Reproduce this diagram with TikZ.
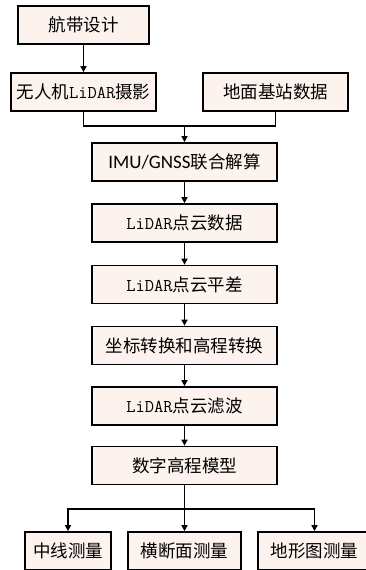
\documentclass[tikz,border=0pt]{standalone}
\usepackage{fontspec}
\setmainfont{Noto Sans CJK SC}
\newfontfamily\cjk{Noto Sans CJK SC}
\newfontfamily\calf{Carlito}
\usetikzlibrary{arrows.meta}
\definecolor{boxfill}{HTML}{FCF3EE}
\newcommand{\LD}{{\ttfamily\fontsize{18}{20}\selectfont LiDAR}}
\tikzset{
  stepbox/.style={draw=black, line width=1.7pt, fill=boxfill, minimum height=38pt, inner sep=0pt,
    font=\cjk\fontsize{17.5}{20}\selectfont},
  conn/.style={line width=1.7pt},
  arr/.style={line width=1.7pt, -{Triangle[length=6pt,width=6pt]}}
}
\begin{document}
\begin{tikzpicture}[x=1pt,y=-1pt]
\useasboundingbox (0,0) rectangle (365,570);
\node[stepbox, minimum width=131pt] (a) at (83.5,25) {航带设计};
\node[stepbox, minimum width=145pt] (b) at (83.5,92) {无人机\LD 摄影};
\node[stepbox, minimum width=145pt] (c) at (275.5,92) {地面基站数据};
\node[stepbox, minimum width=185pt] (d) at (184.5,162) {{\calf\fontsize{19}{22}\selectfont IMU/GNSS}联合解算};
\node[stepbox, minimum width=185pt] (e) at (184.5,223) {\LD 点云数据};
\node[stepbox, minimum width=185pt] (f) at (184.5,284.5) {\LD 点云平差};
\node[stepbox, minimum width=185pt] (g) at (184.5,345.5) {坐标转换和高程转换};
\node[stepbox, minimum width=185pt] (h) at (184.5,406) {\LD 点云滤波};
\node[stepbox, minimum width=185pt] (i) at (184.5,465.5) {数字高程模型};
\node[stepbox, minimum width=86pt] (j) at (68,551) {中线测量};
\node[stepbox, minimum width=113pt] (k) at (184.5,551) {横断面测量};
\node[stepbox, minimum width=113pt] (l) at (314.5,551) {地形图测量};
\coordinate (m1) at (184.5,126);
\coordinate (m2) at (184.5,509);
\draw[arr] (a) -- (b);
\draw[conn] (b.south) |- (m1) -| (c.south);
\draw[arr] (m1) -- (d.north);
\draw[arr] (d) -- (e);
\draw[arr] (e) -- (f);
\draw[arr] (f) -- (g);
\draw[arr] (g) -- (h);
\draw[arr] (h) -- (i);
\draw[conn] (i.south) -- (m2);
\draw[arr] (m2) -| (j.north);
\draw[arr] (m2) -- (k.north);
\draw[arr] (m2) -| (l.north);
\end{tikzpicture}
\end{document}
